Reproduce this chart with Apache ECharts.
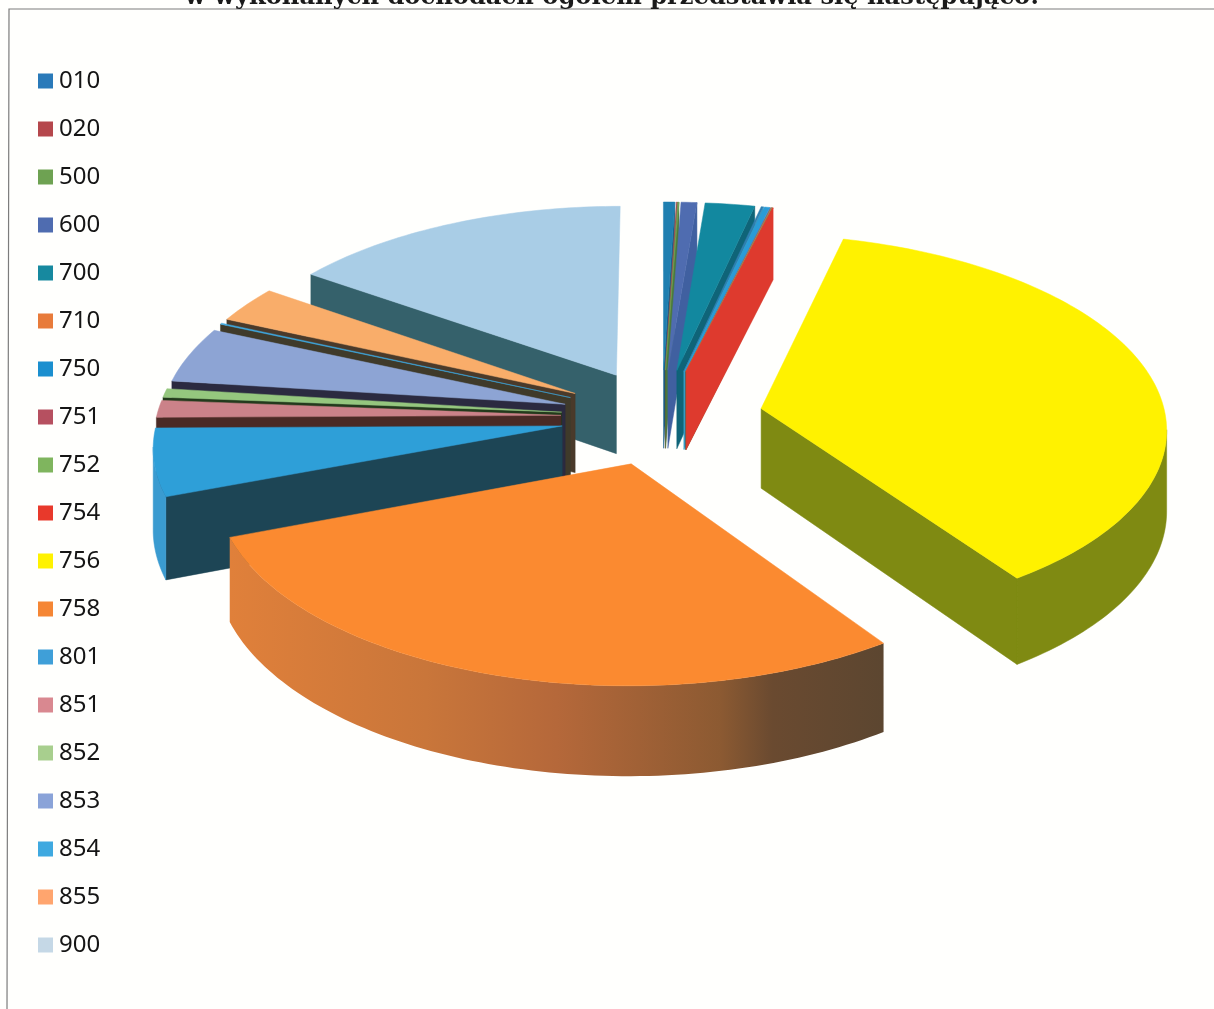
<!DOCTYPE html>
<html><head><meta charset="utf-8">
<style>html,body{margin:0;padding:0;background:#fffffd}#c{width:1214px;height:1009px}</style>
<script src="https://cdn.jsdelivr.net/npm/echarts@6/dist/echarts.min.js"></script>
</head><body><div id="c"></div>
<script>
const titleText = 'w wykonanych dochodach ogółem przedstawia się następująco:';
const codes = ['010','020','500','600','700','710','750','751','752','754','756','758','801','851','852','853','854','855','900'];
const shares = [0.5,0.05,0.05,0.7,2.2,0.1,0.25,0.03,0.03,0.03,36.5,28.9,5.6,1.42,0.73,4.65,0.1,3.05,15.25];
const legendColors = ['#2a7ab9','#b5474c','#6ea252','#4f6cb0','#17899f','#e87b3a','#1b8fcf','#b65060','#7fb55e','#e8392b','#fff200','#f58634','#3f9fd8','#d98890','#a8cf8e','#8aa3d8','#3fa9e0','#ffa56e','#c5d8e6'];
const topColors = ['#1f7fb0','#a05050','#6ea252','#4f6cb0','#12889f','#2f7fb0','#2a9bd6','#b65060','#7fb55e','#e63a2e','#fff200','#fb8a30','#2e9fd8','#cb8289','#95c77e','#8da4d4','#3fa9e0','#f9ad6a','#a9cde6'];
const startWallColors = ['#1a4f68','#5a2a2a','#3a5a2a','#2f3f6a','#0f5a6a','#6a3f20','#1a4f68','#5a2a2a','#3a5a2a','#6a2a20','#7f8a12','#8a5a30','#1d4555','#4a2a25','#233a1c','#2b2a40','#3f3a2a','#4a3a2a','#35616b'];
const endWallColors = ['#155f88','#7a3535','#4a7a3a','#4060a0','#0f6478','#3a9fc0','#2a9bd6','#7a3535','#4a7a3a','#de3a2e','#7f8a12','#8a5a30','#1d4555','#4a2a25','#233a1c','#2b2a40','#3f3a2a','#4a3a2a','#35616b'];
const outerColors = ['#1a6f98','#7a3535','#4a7a3a','#4060a0','#0f6f85','#8a4f28','#1f7fb8','#7a3535','#4a7a3a','#a83020','#7f8a12',null,'#3a9bd0','#b07078','#88b070','#7088b8','#3a9bd0','#d89058','#6a98b8'];
const drawOrder = [7,8,9,10,11,12,13,14,15,16,17,18,6,5,4,3,2,1,0];

// pie geometry
const ox = 662, oy = 417, A = 404.5, B = 192, persp = 0.093, depth = 80, explode = 0.25;
function proj(X, Y, down) {
  const s = 1 / (1 - persp * Y);
  return [ox + A * X * s, oy + B * Y * s + (down ? depth * s : 0)];
}
const total = shares.reduce((a, b) => a + b, 0);
let acc = 0;
const wedges = shares.map(v => { const a0 = acc / total * 2 * Math.PI; acc += v; return [a0, acc / total * 2 * Math.PI]; });

function buildSlice(i) {
  const [a0, a1] = wedges[i];
  const mid = (a0 + a1) / 2;
  const ex = explode * Math.sin(mid), ey = -explode * Math.cos(mid);
  const n = Math.max(2, Math.ceil((a1 - a0) / 0.02));
  const rim = [];
  for (let k = 0; k <= n; k++) {
    const t = a0 + (a1 - a0) * k / n;
    rim.push([ex + Math.sin(t), ey - Math.cos(t)]);
  }
  const children = [];
  const apexT = proj(ex, ey, false), apexB = proj(ex, ey, true);
  const first = rim[0], last = rim[n];
  const poly = (pts, fill) => children.push({ type: 'polygon', shape: { points: pts }, style: { fill, stroke: typeof fill === 'string' ? fill : null, lineWidth: 0.5 } });
  if (Math.sin(a0) < 0) poly([apexT, proj(first[0], first[1], false), proj(first[0], first[1], true), apexB], startWallColors[i]);
  if (Math.sin(a1) > 0) poly([apexT, proj(last[0], last[1], false), proj(last[0], last[1], true), apexB], endWallColors[i]);
  // outer wall: the arc segments that move left on screen face the viewer
  const run = [];
  for (let k = 0; k < n; k++) {
    const p = proj(rim[k][0], rim[k][1], false), q = proj(rim[k + 1][0], rim[k + 1][1], false);
    if (q[0] < p[0]) { if (!run.length) run.push(k); run.push(k + 1); }
  }
  if (run.length) {
    const up = run.map(k => proj(rim[k][0], rim[k][1], false));
    const dn = run.map(k => proj(rim[k][0], rim[k][1], true)).reverse();
    const fill = outerColors[i] || new echarts.graphic.LinearGradient(0, 0, 1, 0, [
      { offset: 0, color: '#e0803a' }, { offset: 0.3, color: '#c9763a' }, { offset: 0.5, color: '#b5683a' }, { offset: 0.75, color: '#8c5a32' },
      { offset: 0.83, color: '#6a4a30' }, { offset: 1, color: '#5c4630' }]);
    poly(up.concat(dn), fill);
  }
  poly([apexT].concat(rim.map(p => proj(p[0], p[1], false))), topColors[i]);
  return { type: 'group', children };
}

const series = codes.map((code, i) => ({
  type: 'custom', name: code, coordinateSystem: 'none', silent: true,
  z: 2 + drawOrder[i], itemStyle: { color: legendColors[i] },
  data: [[shares[i]]],
  renderItem: () => buildSlice(i)
}));

const chart = echarts.init(document.getElementById('c'), null, { renderer: 'canvas' });
chart.setOption({
  animation: false,
  backgroundColor: '#fffffd',
  title: { text: titleText, left: 607, textAlign: 'center', top: -19,
    textStyle: { fontFamily: 'DejaVu Serif', fontWeight: 'bold', fontSize: 24.2, color: '#1a1a1a' } },
  legend: { orient: 'vertical', left: 33, top: 64, icon: 'rect', itemWidth: 15, itemHeight: 15, itemGap: 24, itemStyle: { borderWidth: 0 },
    data: codes.slice(), selectedMode: false,
    textStyle: { fontFamily: 'Noto Sans', fontSize: 24, color: '#151515', padding: [0, 0, 0, 1] } },
  graphic: [{ type: 'polyline', silent: true, z: 1, shape: { points: [[7, 1009], [9, 9], [1214, 9]] }, style: { fill: null, stroke: '#7c7c7c', lineWidth: 1.2 } }],
  series
});
</script></body></html>
